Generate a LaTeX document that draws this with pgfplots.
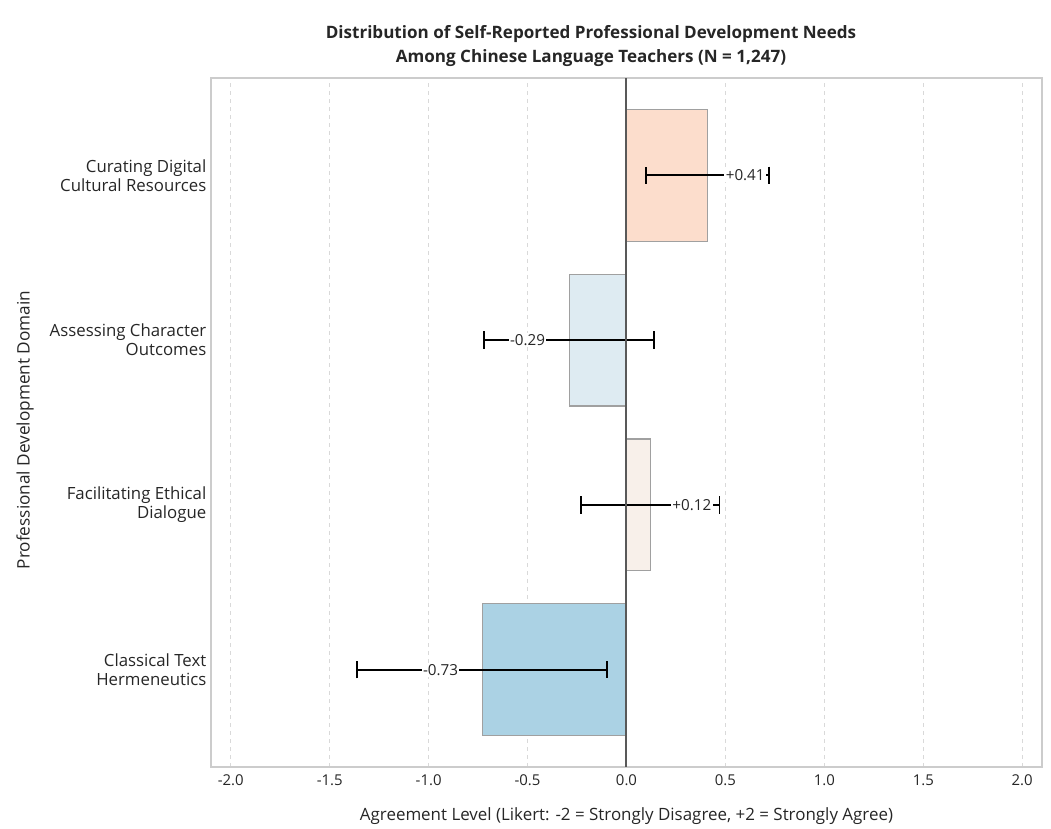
\documentclass[border=0pt]{standalone}
\usepackage{pgfplots}
\pgfplotsset{compat=1.18}
\usepackage{fontspec}
\setmainfont{Open Sans}
\definecolor{cur}{RGB}{252,221,204}
\definecolor{ass}{RGB}{222,235,242}
\definecolor{fac}{RGB}{248,240,234}
\definecolor{cla}{RGB}{171,210,228}
\definecolor{edge}{RGB}{160,160,160}
\definecolor{txt}{RGB}{38,38,38}
\begin{document}
\begin{tikzpicture}
\begin{axis}[
  at={(0,0)}, anchor=south west,
  scale only axis, width=623.25pt, height=516.75pt,
  xbar, bar width=0.8, bar shift=0pt,
  xmin=-2.1, xmax=2.1, ymin=-0.59, ymax=3.59,
  xtick={-2,-1.5,...,2},
  /pgf/number format/fixed, /pgf/number format/fixed zerofill, /pgf/number format/precision=1, /pgf/number format/assume math mode=true,
  xticklabel style={font=\fontsize{11.2}{13}\selectfont, text=txt, yshift=-2pt},
  ytick={0,1,2,3},
  yticklabels={{Classical Text\\Hermeneutics},{Facilitating Ethical\\Dialogue},{Assessing Character\\Outcomes},{Curating Digital\\Cultural Resources}},
  yticklabel style={font=\fontsize{12.6}{14.3}\selectfont, align=right, text=txt},
  major tick length=0pt,
  tick style={draw=none},
  axis line style={draw=black!20, line width=0.8pt},
  xmajorgrids, grid style={dashed, black!15, line width=0.6pt},
  error bars/x dir=both, error bars/x explicit,
  error bars/error bar style={black, line width=1.4pt},
  error bars/error mark options={rotate=90, mark size=6.5pt, line width=1.4pt, black},
  clip=false,
]
\addplot[fill=cla, draw=edge, line width=0.8pt] coordinates {(-0.73,0) +- (0.63,0)};
\addplot[fill=fac, draw=edge, line width=0.8pt] coordinates {(0.12,1) +- (0.35,0)};
\addplot[fill=ass, draw=edge, line width=0.8pt] coordinates {(-0.29,2) +- (0.43,0)};
\addplot[fill=cur, draw=edge, line width=0.8pt] coordinates {(0.41,3) +- (0.31,0)};
\draw[color=black!65, line width=1.5pt] (axis cs:0,-0.59) -- (axis cs:0,3.59);
\begin{scope}[every node/.style={fill=white, inner sep=1pt, text=txt, font=\fontsize{11.4}{13}\selectfont}]
\node at (axis cs:-0.94,0) {-0.73};
\node at (axis cs:0.33,1) {+0.12};
\node at (axis cs:-0.50,2) {-0.29};
\node at (axis cs:0.60,3) {+0.41};
\end{scope}
\end{axis}
\node[align=center, font=\bfseries\fontsize{12.8}{18}\selectfont, text=txt] at (285pt,540.75pt) {Distribution of Self-Reported Professional Development Needs\\Among Chinese Language Teachers (N = 1,247)};
\node[font=\fontsize{12.7}{14}\selectfont, text=txt] at (311.6pt,-36.5pt) {Agreement Level (Likert: -2 = Strongly Disagree, +2 = Strongly Agree)};
\node[font=\fontsize{12.9}{14}\selectfont, text=txt, rotate=90] at (-139.5pt,252.75pt) {Professional Development Domain};
\path (-158.25pt,-42pt) rectangle (630pt,575.25pt);
\end{tikzpicture}
\end{document}
